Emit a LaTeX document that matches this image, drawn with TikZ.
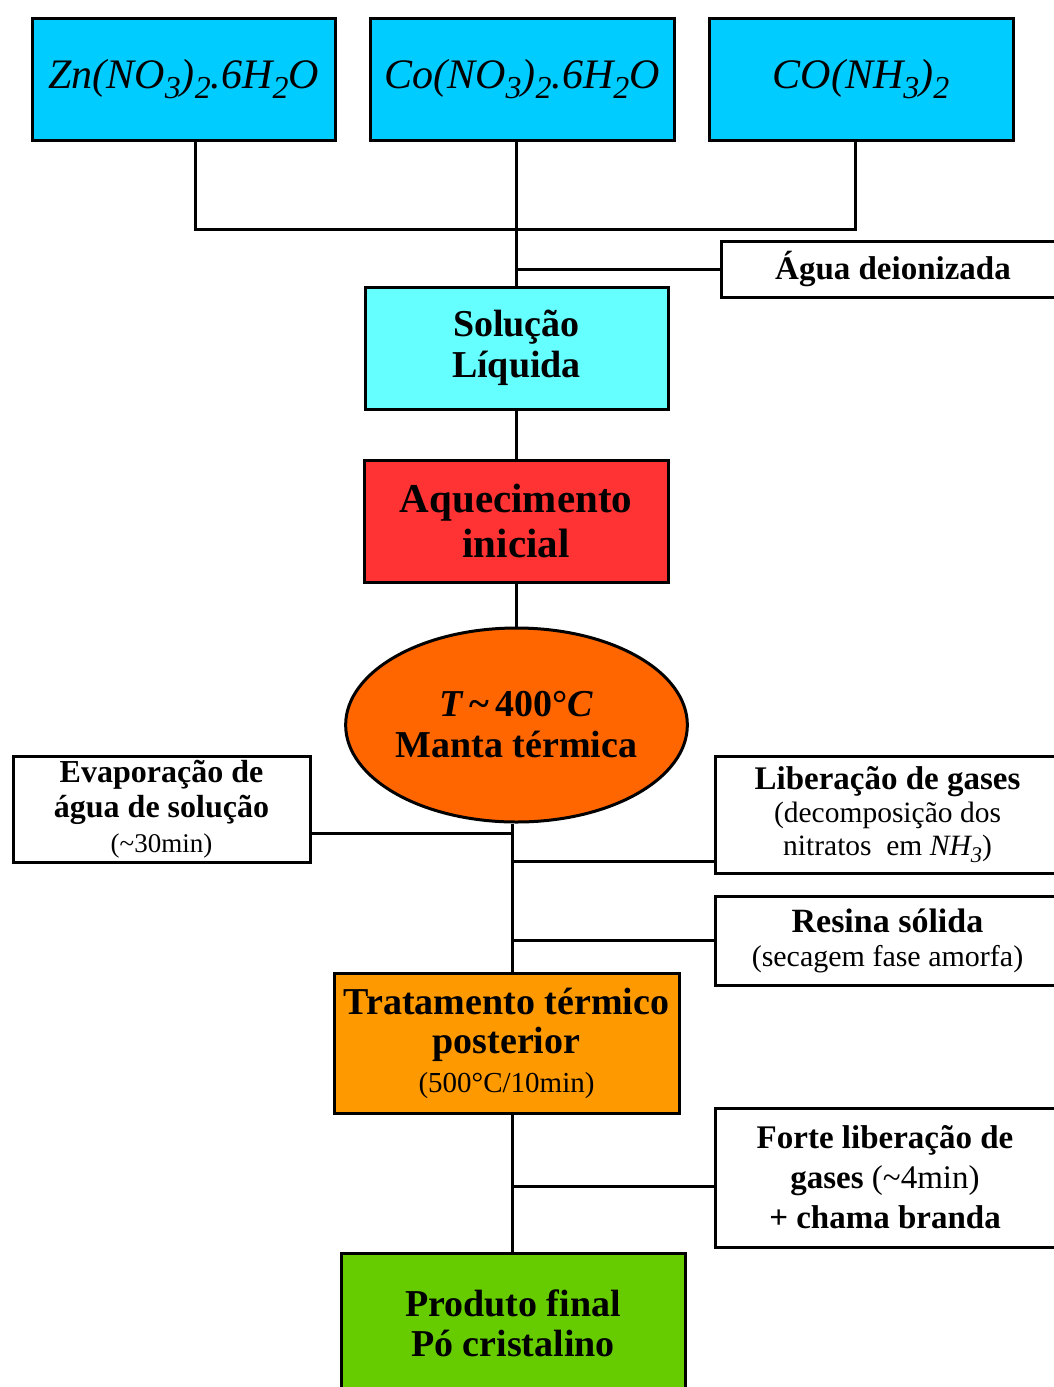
\documentclass[tikz,border=0pt]{standalone}
\usepackage{fontspec}
\setmainfont{Liberation Serif}
\usepackage{graphicx}
\usetikzlibrary{shapes.geometric}
\definecolor{chemc}{HTML}{00CCFF}
\definecolor{solc}{HTML}{66FFFF}
\definecolor{aqc}{HTML}{FF3333}
\definecolor{ellc}{HTML}{FF6600}
\definecolor{tratc}{HTML}{FF9900}
\definecolor{prodc}{HTML}{66CC00}
\newcommand\sbs[1]{\raisebox{-0.55ex}{\scalebox{0.76}{#1}}}
\newcommand\fs[2]{\fontsize{#1}{#2}\selectfont}
\begin{document}
\begin{tikzpicture}[x=1pt,y=-1pt,
  box/.style={draw=black, line width=3pt, rectangle, inner sep=0pt, align=center},
  side/.style={box, fill=white},
  conn/.style={line width=3pt}]
\useasboundingbox (0,0) rectangle (1053,1387);
% top reagents
\node[box, fill=chemc, minimum width=303, minimum height=122, font=\fs{42}{44}\itshape] (zn) at (183.5,79)
  {Zn(NO\sbs{3})\sbs{2}.6H\sbs{2}O};
\node[box, fill=chemc, minimum width=304, minimum height=122, font=\fs{42}{44}\itshape] (co) at (522,79)
  {Co(NO\sbs{3})\sbs{2}.6H\sbs{2}O};
\node[box, fill=chemc, minimum width=304, minimum height=122, font=\fs{42}{44}\itshape] (con) at (861,79)
  {CO(NH\sbs{3})\sbs{2}};
% water
\node[side, minimum width=344, minimum height=56, font=\fs{33}{34}\bfseries] (agua) at (893,269)
  {Água deionizada};
% main column
\node[box, fill=solc, minimum width=303, minimum height=122, font=\fs{38}{41}\bfseries] (sol) at (516.5,348)
  {Solução\\ Líquida};
\node[box, fill=aqc, minimum width=304, minimum height=122, font=\fs{41}{45}\bfseries] (aq) at (516,521)
  {Aquecimento\\ inicial};
\node[draw=black, line width=3pt, ellipse, fill=ellc, minimum width=339, minimum height=194,
  inner sep=0pt, align=center, font=\fs{38}{41}\bfseries] (ell) at (516.5,725)
  {{\itshape T}\,\textasciitilde\,400°{\itshape C}\\ Manta térmica};
\node[side, minimum width=297, minimum height=106, font=\fs{32}{35}\bfseries] (evap) at (161.5,809)
  {Evaporação de\\ água de solução\\ {\fs{27}{35}\mdseries(\textasciitilde30min)}};
\node[side, minimum width=345, minimum height=117, font=\fs{29.5}{33}] (lib) at (887.5,814.5)
  {{\fs{33}{33}\bfseries Liberação de gases}\\ (decomposição dos\\ nitratos\ \ em {\itshape NH\sbs{3}})};
\node[side, minimum width=345, minimum height=89, font=\fs{30}{34}] (res) at (887.5,940.5)
  {{\fs{34}{34}\bfseries Resina sólida}\\ (secagem fase amorfa)};
\node[box, fill=tratc, minimum width=345, minimum height=140, font=\fs{38}{39}\bfseries] (trat) at (506.5,1043)
  {Tratamento térmico\\ posterior\\ {\fs{29}{37}\mdseries(500°C/10min)}};
\node[side, minimum width=340, minimum height=139, font=\fs{33}{40}\bfseries] (forte) at (885,1177.5)
  {Forte liberação de\\ gases {\mdseries(\textasciitilde4min)}\\ + chama branda};
\node[box, fill=prodc, minimum width=344, minimum height=140, font=\fs{38}{40}\bfseries] (prod) at (513,1323)
  {Produto final\\ Pó cristalino};
% connectors
\coordinate (j) at (516.5,229);
\coordinate (sp) at (512,822);
\coordinate (yev) at (0,833);
\coordinate (ylib) at (0,861);
\coordinate (yres) at (0,940);
\coordinate (yfor) at (0,1186);
\draw[conn] ([xshift=12pt]zn.south) -- ([xshift=12pt]zn.south |- j) -- ([xshift=-6pt]con.south |- j) -- ([xshift=-6pt]con.south);
\draw[conn] (sol.north |- co.south) -- (sol.north);
\draw[conn] (agua.west) -- (agua.west -| sol.north);
\draw[conn] (sol.south) -- (sol.south |- aq.north);
\draw[conn] (aq.south) -- (aq.south |- ell.north);
\draw[conn] (ell.south -| sp) -- (trat.north -| sp);
\draw[conn] (trat.south -| sp) -- (prod.north -| sp);
\draw[conn] (evap.east |- yev) -- (sp |- yev);
\draw[conn] (lib.west |- ylib) -- (sp |- ylib);
\draw[conn] (res.west |- yres) -- (sp |- yres);
\draw[conn] (forte.west |- yfor) -- (sp |- yfor);
\end{tikzpicture}
\end{document}
